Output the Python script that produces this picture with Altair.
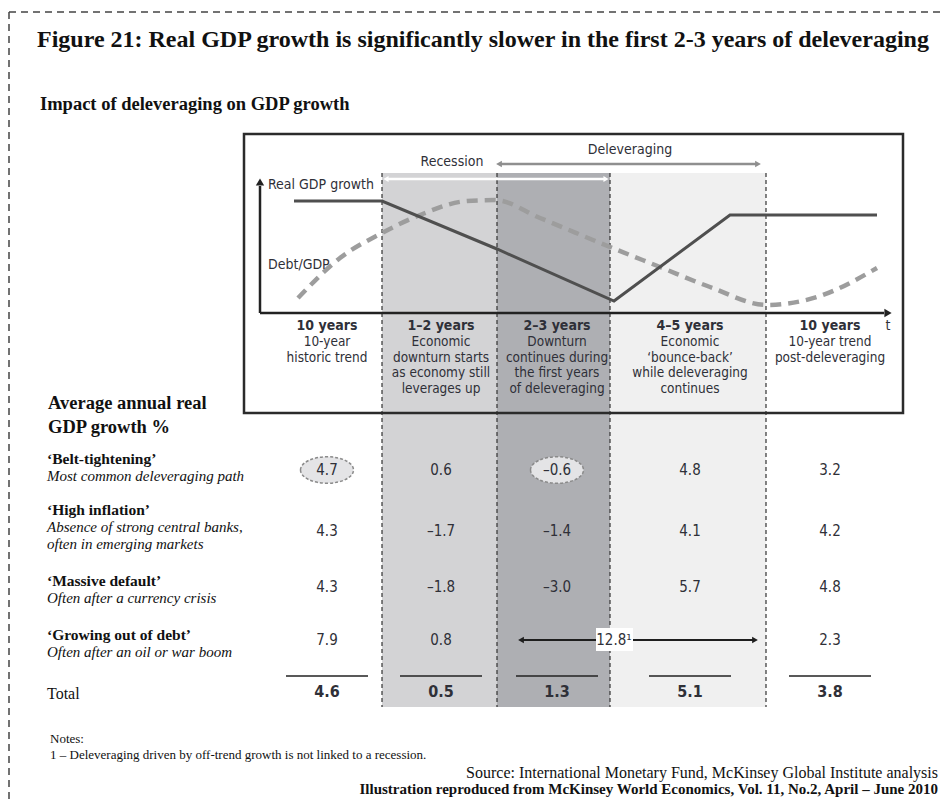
import altair as alt
import pandas as pd

# ---------------- data ----------------
title_text = "Figure 21: Real GDP growth is significantly slower in the first 2-3 years of deleveraging"
subtitle_text = "Impact of deleveraging on GDP growth"
table_heading = ["Average annual real", "GDP growth %"]

phase_labels = ["10 years", "1–2 years", "2–3 years", "4–5 years", "10 years"]
phase_desc = [
    ["10-year", "historic trend"],
    ["Economic", "downturn starts", "as economy still", "leverages up"],
    ["Downturn", "continues during", "the first years", "of deleveraging"],
    ["Economic", "‘bounce-back’", "while deleveraging", "continues"],
    ["10-year trend", "post-deleveraging"],
]
scenario_names = ["‘Belt-tightening’", "‘High inflation’", "‘Massive default’", "‘Growing out of debt’"]
scenario_notes = [
    ["Most common deleveraging path"],
    ["Absence of strong central banks,", "often in emerging markets"],
    ["Often after a currency crisis"],
    ["Often after an oil or war boom"],
]
belt_tightening = [4.7, 0.6, -0.6, 4.8, 3.2]
high_inflation = [4.3, -1.7, -1.4, 4.1, 4.2]
massive_default = [4.3, -1.8, -3.0, 5.7, 4.8]
growing_out_cols = [0, 1, 4]
growing_out = [7.9, 0.8, 2.3]
growing_out_span = 12.8          # spans phases 2-3 and 4-5 (note 1)
totals = [4.6, 0.5, 1.3, 5.1, 3.8]
highlighted = [(0, 0), (0, 2)]   # (scenario row, phase column) circled

# schematic curves: time position / level
gdp_t = [294, 382, 497, 614, 730, 877]
gdp_level = [201, 201, 249, 301, 215, 215]
debt_t = [298, 340, 382, 420, 467, 495, 540, 610, 660, 710, 767, 817, 877]
debt_level = [298, 258, 233, 215, 201, 200, 218, 247, 267, 287, 305, 297, 268]

notes_lines = ["Notes:", "1 – Deleveraging driven by off-trend growth is not linked to a recession."]
source_text = "Source: International Monetary Fund, McKinsey Global Institute analysis"
credit_text = "Illustration reproduced from McKinsey World Economics, Vol. 11, No.2, April – June 2010"

# ---------------- layout ----------------
W, H = 933, 792
col_x = [327, 441, 557, 690, 830]
col_edges = [244, 382, 497, 610, 766, 903]
shade_colors = ["#d3d3d5", "#aeafb3", "#f0f0f0"]
row_y = [470, 531, 587, 640]
total_y = 692

NARROW = "DejaVu Sans Condensed, Liberation Sans Narrow, Roboto Condensed, Arial Narrow, Roboto, sans-serif"
SERIF = "Liberation Serif, Times New Roman, serif"
INK = "#2f3038"

xs = alt.Scale(domain=[8, 8 + W], nice=False, zero=False)
ys = alt.Scale(domain=[8, 8 + H], nice=False, zero=False, reverse=True)


def X(f="x"):
    return alt.X(f"{f}:Q", scale=xs, axis=None)


def Y(f="y"):
    return alt.Y(f"{f}:Q", scale=ys, axis=None)


def X2(f="x2"):
    return alt.X2(f"{f}:Q")


def Y2(f="y2"):
    return alt.Y2(f"{f}:Q")


def texts(rows, **kw):
    df = pd.DataFrame(rows, columns=["x", "y", "text"])
    base = dict(baseline="middle", color=INK)
    base.update(kw)
    return alt.Chart(df).mark_text(**base).encode(x=X(), y=Y(), text="text:N")


def rules(rows, **kw):
    df = pd.DataFrame(rows, columns=["x", "x2", "y", "y2"])
    return alt.Chart(df).mark_rule(**kw).encode(x=X(), x2=X2(), y=Y(), y2=Y2())


def heads(rows, shape, color, size):
    df = pd.DataFrame(rows, columns=["x", "y"])
    return alt.Chart(df).mark_point(shape=shape, filled=True, color=color, size=size, opacity=1).encode(x=X(), y=Y())


def fmt(v):
    return f"{v:.1f}".replace("-", "–")


layers = []

# outer dashed frame
layers.append(rules([[9, 8 + W, 12, 12], [9, 9, 12, 8 + H]], color="#444", strokeWidth=1.5, strokeDash=[7, 5]))

# title & subtitle
layers.append(texts([[37, 40, title_text]], align="left", font=SERIF, fontSize=24, fontWeight="bold", color="#111"))
layers.append(texts([[40, 104, subtitle_text]], align="left", font=SERIF, fontSize=18.5, fontWeight="bold", color="#111"))

# column shading
shade_df = pd.DataFrame({
    "x": col_edges[1:4], "x2": col_edges[2:5],
    "y": [173] * 3, "y2": [707] * 3, "c": shade_colors,
})
layers.append(alt.Chart(shade_df).mark_rect().encode(
    x=X(), x2=X2(), y=Y(), y2=Y2(), color=alt.Color("c:N", scale=None)))

# dashed phase boundaries
layers.append(rules([[e, e, 173, 707] for e in col_edges[1:5]], color="#333", strokeWidth=1.2, strokeDash=[4, 3]))

# schematic frame
box_df = pd.DataFrame({"x": [244], "x2": [903], "y": [134], "y2": [413]})
layers.append(alt.Chart(box_df).mark_rect(fill=None, stroke="#2b2b2b", strokeWidth=2.5, filled=False).encode(
    x=X(), x2=X2(), y=Y(), y2=Y2()))

# schematic axes
layers.append(rules([[260, 884, 313, 313], [260, 260, 186, 313]], color="#222", strokeWidth=2.5))
layers.append(heads([[888, 313]], "triangle-right", "#222", 70))
layers.append(heads([[260, 182]], "triangle-up", "#222", 70))

# debt/GDP dashed curve and GDP growth line
debt_df = pd.DataFrame({"x": debt_t, "y": debt_level, "i": range(len(debt_t))})
layers.append(alt.Chart(debt_df).mark_line(color="#9d9d9d", strokeWidth=4.5, strokeDash=[11, 7],
                                            interpolate="monotone").encode(x=X(), y=Y(), order="i:Q"))
gdp_df = pd.DataFrame({"x": gdp_t, "y": gdp_level, "i": range(len(gdp_t))})
layers.append(alt.Chart(gdp_df).mark_line(color="#4f4f4f", strokeWidth=3).encode(x=X(), y=Y(), order="i:Q"))

layers.append(texts([[268, 185, "Real GDP growth"], [268, 265, "Debt/GDP"]], align="left", font=NARROW, fontSize=14))

# recession / deleveraging arrows
layers.append(rules([[500, 756, 164, 164]], color="#8f8f8f", strokeWidth=2.5))
layers.append(heads([[499, 164]], "triangle-left", "#8f8f8f", 45))
layers.append(heads([[758, 164]], "triangle-right", "#8f8f8f", 45))
layers.append(rules([[387, 605, 179, 179]], color="white", strokeWidth=2.5))
layers.append(heads([[386, 179]], "triangle-left", "white", 35))
layers.append(heads([[606, 179]], "triangle-right", "white", 35))
layers.append(texts([[452, 162, "Recession"], [630, 150, "Deleveraging"]], align="center", font=NARROW, fontSize=14))

# phase headers and descriptions
layers.append(texts([[col_x[i], 326, lab] for i, lab in enumerate(phase_labels)],
                    align="center", font=NARROW, fontSize=14, fontWeight="bold"))
layers.append(texts([[888, 326, "t"]], align="center", font=NARROW, fontSize=14))
desc_rows = []
for i, lines in enumerate(phase_desc):
    for j, line in enumerate(lines):
        desc_rows.append([col_x[i], 342 + 15.5 * j, line])
layers.append(texts(desc_rows, align="center", font=NARROW, fontSize=13.5))

# left-hand table labels
layers.append(texts([[48, 403, table_heading[0]], [48, 427, table_heading[1]]],
                    align="left", font=SERIF, fontSize=18.5, fontWeight="bold", color="#111"))
name_y = [459, 510, 581, 635]
layers.append(texts([[47, name_y[r], n] for r, n in enumerate(scenario_names)],
                    align="left", font=SERIF, fontSize=15.5, fontWeight="bold", color="#111"))
note_rows = []
for r, lines in enumerate(scenario_notes):
    for j, line in enumerate(lines):
        note_rows.append([47, name_y[r] + 17 + 16.5 * j, line])
layers.append(texts(note_rows, align="left", font=SERIF, fontSize=15, fontStyle="italic", color="#111"))
layers.append(texts([[47, 694, "Total"]], align="left", font=SERIF, fontSize=16, color="#111"))

# highlight ellipses
ell_df = pd.DataFrame({"x": [col_x[c] for r, c in highlighted], "y": [row_y[r] for r, c in highlighted]})
ellipse = "M-1,0A1,0.5,0,1,0,1,0A1,0.5,0,1,0,-1,0Z"
layers.append(alt.Chart(ell_df).mark_point(shape=ellipse, size=53 * 53, fill="#e4e4e6", stroke="#8a8a8a",
                                           strokeWidth=1.5, strokeDash=[3, 2], opacity=1, fillOpacity=1).encode(
    x=X(), y=Y()))

# values
val_rows = []
for r, series in enumerate([belt_tightening, high_inflation, massive_default]):
    for c, v in enumerate(series):
        val_rows.append([col_x[c], row_y[r], fmt(v)])
for c, v in zip(growing_out_cols, growing_out):
    val_rows.append([col_x[c], row_y[3], fmt(v)])
layers.append(texts(val_rows, align="center", font=NARROW, fontSize=15))

# spanning arrow for 'growing out of debt'
layers.append(rules([[522, 753, 640, 640]], color="#1e1e1e", strokeWidth=2.2))
layers.append(heads([[521, 640]], "triangle-left", "#1e1e1e", 45))
layers.append(heads([[755, 640]], "triangle-right", "#1e1e1e", 45))
lab_df = pd.DataFrame({"x": [596], "x2": [633], "y": [628], "y2": [651]})
layers.append(alt.Chart(lab_df).mark_rect(color="white").encode(x=X(), x2=X2(), y=Y(), y2=Y2()))
layers.append(texts([[614, 640, fmt(growing_out_span) + "¹"]], align="center", font=NARROW, fontSize=15))

# totals
layers.append(rules([[x - 41, x + 41, 676, 676] for x in col_x], color="#222", strokeWidth=1.5))
layers.append(texts([[col_x[c], total_y, fmt(v)] for c, v in enumerate(totals)],
                    align="center", font=NARROW, fontSize=16, fontWeight="bold"))

# notes and source
layers.append(texts([[50, 739, notes_lines[0]], [50, 755, notes_lines[1]]], align="left", font=SERIF, fontSize=13, color="#111"))
layers.append(texts([[938, 773, source_text]], align="right", font=SERIF, fontSize=16, color="#111"))
layers.append(texts([[938, 789, credit_text]], align="right", font=SERIF, fontSize=15, fontWeight="bold", color="#111"))

chart = alt.layer(*layers).properties(
    width=W, height=H, padding=0, autosize=alt.AutoSizeParams(type="none")
).configure_view(stroke=None)

chart.save("out.html", embed_options={"renderer": "svg", "actions": False})
